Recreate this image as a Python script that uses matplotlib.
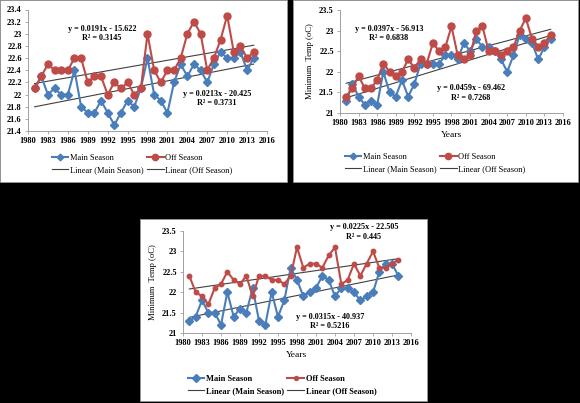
import numpy as np
import matplotlib
matplotlib.use('Agg')
import matplotlib.pyplot as plt
from matplotlib.lines import Line2D

plt.rcParams['font.family'] = ['Liberation Serif', 'DejaVu Serif']
plt.rcParams['font.weight'] = 'bold'

# Data
years = list(range(1981, 2015))

main_a = [22.1, 22.3, 22.0, 22.1, 22.0, 22.0, 22.4, 21.8, 21.7, 21.7, 21.9, 21.7,
          21.5, 21.7, 21.9, 21.8, 22.1, 22.6, 22.0, 21.9, 21.7, 22.2, 22.5, 22.3,
          22.5, 22.4, 22.2, 22.5, 22.7, 22.6, 22.6, 22.7, 22.4, 22.6]
off_a = [22.1, 22.3, 22.5, 22.4, 22.4, 22.4, 22.6, 22.6, 22.2, 22.3, 22.3, 22.0,
         22.2, 22.1, 22.2, 22.0, 22.1, 23.0, 22.4, 22.2, 22.4, 22.4, 22.6, 23.0,
         23.2, 23.0, 22.4, 22.6, 22.9, 23.3, 22.7, 22.8, 22.6, 22.7]

main_b = [21.3, 21.7, 21.4, 21.2, 21.3, 21.2, 22.0, 21.5, 21.4, 21.8, 21.4, 21.7,
          22.2, 22.2, 22.2, 22.2, 22.4, 22.4, 22.3, 22.7, 22.5, 22.8, 22.6, 22.6,
          22.5, 22.3, 22.0, 22.4, 22.9, 22.8, 22.7, 22.3, 22.6, 22.8]
off_b = [21.4, 21.6, 21.9, 21.6, 21.6, 21.8, 22.2, 22.0, 21.9, 22.0, 22.3, 22.1,
         22.3, 22.2, 22.7, 22.5, 22.6, 23.1, 22.4, 22.3, 22.4, 23.0, 23.1, 22.5,
         22.5, 22.4, 22.5, 22.6, 23.0, 23.3, 22.8, 22.6, 22.7, 22.9]

main_c = [21.3, 21.4, 21.8, 21.5, 21.5, 21.2, 22.0, 21.4, 21.6, 21.5, 22.1, 21.3,
          21.2, 22.0, 21.4, 21.8, 22.6, 22.3, 21.9, 22.0, 22.1, 22.4, 22.3, 21.9,
          22.1, 22.1, 22.0, 21.8, 21.9, 22.0, 22.5, 22.7, 22.7, 22.4]
off_c = [22.4, 22.0, 21.9, 21.7, 22.1, 22.2, 22.5, 22.3, 22.2, 22.4, 21.9, 22.4,
         22.4, 22.3, 22.3, 22.2, 22.4, 23.1, 22.6, 22.7, 22.7, 22.6, 22.9, 23.1,
         22.2, 22.3, 22.7, 22.4, 22.7, 23.0, 22.6, 22.6, 22.7, 22.8]

x_ticks = list(range(1980, 2017, 3))

BLUE = '#4A7EBB'
RED = '#BE4B48'
TREND = '#404040'
W, H = 580, 403


def fx(px):
    return px / W


def fy(py):
    return 1 - py / H


def panel(fig, box, ax_box, main, off, yticks, ylabels, ylabel, big, eqs, leg_xy):
    # white panel background
    x0, y0, x1, y1 = box
    fig.patches.append(plt.Rectangle((fx(x0), fy(y1)), fx(x1 - x0), (y1 - y0) / H,
                                     transform=fig.transFigure, facecolor='white',
                                     edgecolor='#999999', lw=0.6, zorder=-5))
    l, t, r, b = ax_box
    ax = fig.add_axes([fx(l), fy(b), fx(r - l), (b - t) / H])
    ax.set_facecolor('white')
    ms_r, ms_b = (5.0, 4.0) if big else (3.2, 4.4)
    yrs = np.array(years)
    for vals in (main, off):
        k, c = np.polyfit(yrs, vals, 1)
        ax.plot([yrs[0], yrs[-1]], [k * yrs[0] + c, k * yrs[-1] + c],
                color=TREND, lw=0.8, zorder=2)
    ax.plot(years, main, color=BLUE, lw=1.5, marker='D', ms=ms_b, zorder=3)
    ax.plot(years, off, color=RED, lw=1.5, marker='o', ms=ms_r, zorder=4)
    ax.set_xlim(1980, 2016)
    ax.set_ylim(yticks[0], yticks[-1])
    ax.set_xticks(x_ticks)
    ax.set_yticks(yticks)
    ax.set_yticklabels(ylabels)
    ax.tick_params(labelsize=6, length=2.5, width=0.6, color='#A0A0A0', pad=2)
    for s in ('top', 'right'):
        ax.spines[s].set_visible(False)
    for s in ('left', 'bottom'):
        ax.spines[s].set_color('#A0A0A0')
        ax.spines[s].set_linewidth(0.7)
    if ylabel:
        ax.set_ylabel('Minimum  Temp (oC)', fontsize=6.2, labelpad=4)
        ax.set_xlabel('Years', fontsize=6.8, labelpad=3)
    for (cx, cy, eq, r2) in eqs:
        fig.text(fx(cx), fy(cy), eq, ha='center', va='center', fontsize=5.9)
        fig.text(fx(cx), fy(cy + 9.5), r2, ha='center', va='center', fontsize=5.9)
    handles = [
        Line2D([], [], color=BLUE, lw=1.5, marker='D', ms=ms_b * 0.85),
        Line2D([], [], color=TREND, lw=0.8),
        Line2D([], [], color=RED, lw=1.5, marker='o', ms=ms_r * 0.9),
        Line2D([], [], color=TREND, lw=0.8),
    ]
    labels = ['Main Season', 'Linear (Main Season)', 'Off Season', 'Linear (Off Season)']
    fig.legend(handles, labels, loc='center', bbox_to_anchor=(fx(leg_xy[0]), fy(leg_xy[1])),
               ncol=2, frameon=False, prop={'size': 6, 'weight': 'normal' if big else 'bold'},
               handlelength=2.0, handletextpad=0.2, columnspacing=0.4,
               labelspacing=0.55, borderpad=0)
    return ax


fig = plt.figure(figsize=(5.8, 4.03), dpi=100, facecolor='black')

yt1 = [21.4, 21.6, 21.8, 22.0, 22.2, 22.4, 22.6, 22.8, 23.0, 23.2, 23.4]
yl1 = ['21.4', '21.6', '21.8', '22', '22.2', '22.4', '22.6', '22.8', '23', '23.2', '23.4']
yt2 = [21.0, 21.5, 22.0, 22.5, 23.0, 23.5]
yl2 = ['21', '21.5', '22', '22.5', '23', '23.5']

panel(fig, (0, 0, 287, 182), (28, 9.5, 267, 131), main_a, off_a, yt1, yl1, False, True,
      [(102, 29, 'y = 0.0191x - 15.622', 'R² = 0.3145'),
       (217, 94, 'y = 0.0213x - 20.425', 'R² = 0.3731')], (142, 164))

panel(fig, (293, 0, 578, 182), (340, 10, 563, 113), main_b, off_b, yt2, yl2, True, True,
      [(389, 29, 'y = 0.0397x - 56.913', 'R² = 0.6838'),
       (471, 88, 'y = 0.0459x - 69.462', 'R² = 0.7268')], (435, 163))

panel(fig, (140, 219, 427, 401), (183, 231, 411, 333), main_c, off_c, yt2, yl2, True, False,
      [(364, 227, 'y = 0.0225x - 22.505', 'R² = 0.445'),
       (330, 317, 'y = 0.0315x - 40.937', 'R² = 0.5216')], (282, 385))

fig.savefig('out.png', dpi=100, facecolor='black')
